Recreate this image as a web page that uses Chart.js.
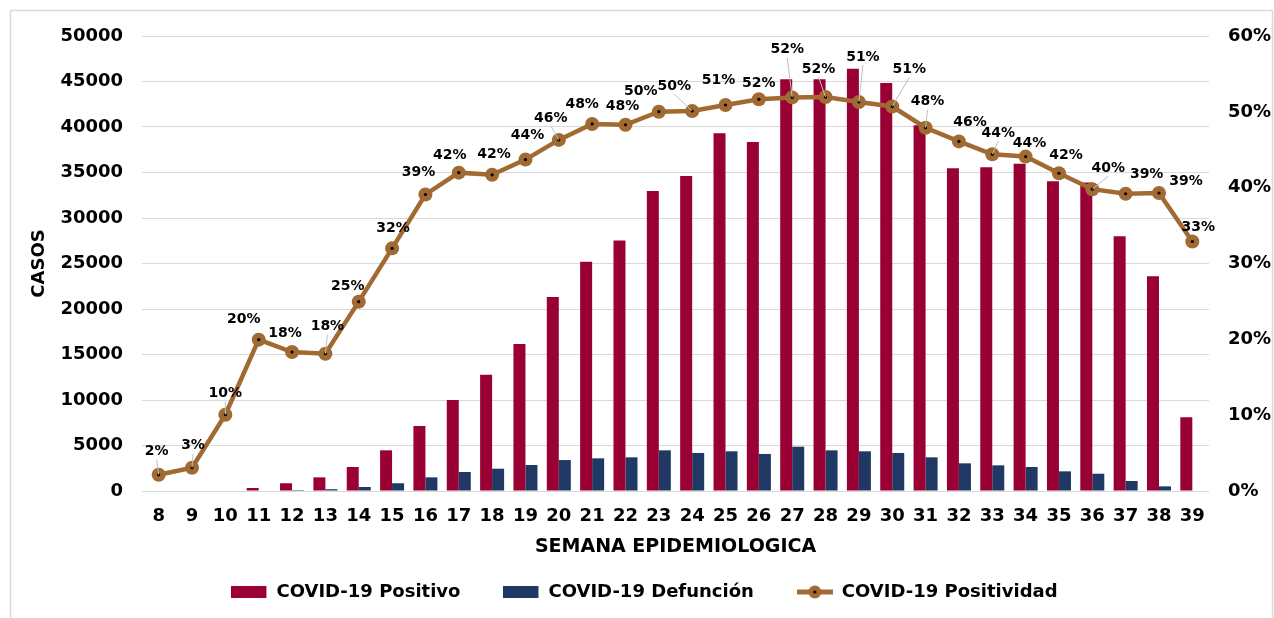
<!DOCTYPE html>
<html>
<head>
<meta charset="utf-8">
<script src="https://cdn.jsdelivr.net/npm/chart.js@4"></script>
<style>
  html, body { margin: 0; padding: 0; background: #fff; }
</style>
</head>
<body>
<canvas id="grafica" width="1274" height="618"></canvas>
<script>
// Datos por semana epidemiologica
const semanas = ["8", "9", "10", "11", "12", "13", "14", "15", "16", "17", "18", "19", "20", "21", "22", "23",
  "24", "25", "26", "27", "28", "29", "30", "31", "32", "33", "34", "35", "36", "37", "38", "39"];
const positivos = [0, 0, 0, 330, 850, 1500, 2640, 4470, 7140, 10000, 12780, 16150, 21320, 25200, 27540, 32970,
  34620, 39300, 38350, 45240, 45240, 46400, 44840, 40200, 35460, 35570, 35970, 34030, 33900, 27990, 23590, 8100];
const defunciones = [0, 0, 0, 0, 100, 200, 440, 850, 1500, 2090, 2450, 2860, 3400, 3590, 3700, 4470,
  4180, 4360, 4070, 4870, 4470, 4360, 4180, 3700, 3040, 2820, 2640, 2160, 1900, 1100, 510, 0];
const positividad = [0.0215, 0.0307, 0.1006, 0.1996, 0.1833, 0.181, 0.2497, 0.32, 0.391, 0.4198, 0.417, 0.437,
  0.463, 0.484, 0.483, 0.5002, 0.5011, 0.509, 0.5165, 0.519, 0.5195, 0.513, 0.507, 0.479, 0.461, 0.444,
  0.441, 0.419, 0.398, 0.392, 0.393, 0.329];

// desplazamiento de cada etiqueta (px) respecto a su punto
const etiquetaDx = [-2, 1, 0, -15, -7, 2, -11, 1, -7, -9, 2, 2, -8, -10, -3, -18,
  -18, -7, 0, -5, -7, 4, 17, 2, 11, 6, 4, 7, 16, 21, 27, 6];
const etiquetaDy = [-23, -22, -21, -20, -19, -27, -15, -20, -22, -17, -20, -24, -22, -20, -18, -20,
  -25, -25, -16, -48, -28, -45, -37, -26, -19, -21, -13, -18, -21, -19, -12, -14];
// etiquetas con linea guia
const conGuia = [0, 1, 2, 5, 12, 16, 19, 20, 21, 22, 23, 25, 28];

const ROJO = "#990033";
const AZUL = "#203864";
const CAFE = "#A06A32";
const FUENTE = "'DejaVu Sans', sans-serif";

Chart.defaults.font.family = FUENTE;
Chart.defaults.font.weight = "bold";
Chart.defaults.color = "#000";

// marcas de la leyenda
function marcaLeyenda(tipo, color) {
  const c = document.createElement("canvas");
  c.width = 36;
  c.height = 16;
  const g = c.getContext("2d");
  if (tipo === "barra") {
    g.fillStyle = color;
    g.fillRect(0, 2, 35, 12);
  } else {
    g.strokeStyle = color;
    g.lineWidth = 5;
    g.beginPath();
    g.moveTo(0, 8);
    g.lineTo(36, 8);
    g.stroke();
    g.fillStyle = color;
    g.beginPath();
    g.arc(18, 8, 6.5, 0, Math.PI * 2);
    g.fill();
    g.fillStyle = "#000";
    g.beginPath();
    g.arc(18, 8, 1.6, 0, Math.PI * 2);
    g.fill();
  }
  return c;
}
const marcas = [marcaLeyenda("barra", ROJO), marcaLeyenda("barra", AZUL), marcaLeyenda("linea", CAFE)];

const fondoYEtiquetas = {
  id: "fondoYEtiquetas",
  beforeDraw(chart) {
    const ctx = chart.ctx;
    ctx.save();
    ctx.fillStyle = "#fff";
    ctx.fillRect(0, 0, chart.width, chart.height);
    ctx.strokeStyle = "#d9d9d9";
    ctx.lineWidth = 1.5;
    ctx.strokeRect(10.5, 10.5, 1262, 620);
    ctx.restore();
  },
  afterDatasetsDraw(chart) {
    const ctx = chart.ctx;
    const meta = chart.getDatasetMeta(2);
    ctx.save();
    // puntos negros al centro
    ctx.fillStyle = "#000";
    meta.data.forEach((p) => {
      ctx.beginPath();
      ctx.arc(p.x, p.y, 1.6, 0, Math.PI * 2);
      ctx.fill();
    });
    // lineas guia
    ctx.strokeStyle = "#bfbfbf";
    ctx.lineWidth = 1;
    conGuia.forEach((i) => {
      const p = meta.data[i];
      ctx.beginPath();
      ctx.moveTo(p.x + etiquetaDx[i], p.y + etiquetaDy[i] + 8);
      ctx.lineTo(p.x, p.y);
      ctx.stroke();
    });
    ctx.font = "bold 14px " + FUENTE;
    ctx.fillStyle = "#000";
    ctx.textAlign = "center";
    ctx.textBaseline = "middle";
    meta.data.forEach((p, i) => {
      ctx.fillText(Math.round(positividad[i] * 100) + "%", p.x + etiquetaDx[i], p.y + etiquetaDy[i]);
    });
    ctx.restore();
  }
};

new Chart(document.getElementById("grafica"), {
  type: "bar",
  data: {
    labels: semanas,
    datasets: [
      { label: "COVID-19 Positivo", data: positivos, backgroundColor: ROJO, yAxisID: "y",
        barPercentage: 1, categoryPercentage: 0.72 },
      { label: "COVID-19 Defunción", data: defunciones, backgroundColor: AZUL, yAxisID: "y",
        barPercentage: 1, categoryPercentage: 0.72 },
      { type: "line", label: "COVID-19 Positividad", data: positividad, yAxisID: "y1", order: -1,
        borderColor: CAFE, backgroundColor: CAFE, borderWidth: 4.5, pointRadius: 7,
        pointBackgroundColor: CAFE, pointBorderColor: CAFE, pointBorderWidth: 0, tension: 0 }
    ]
  },
  options: {
    responsive: false,
    animation: false,
    layout: { padding: { left: 15, right: 0, top: 36, bottom: 7 } },
    plugins: {
      tooltip: { enabled: false },
      legend: {
        position: "bottom",
        labels: {
          usePointStyle: true,
          pointStyleWidth: 36,
          boxHeight: 16,
          padding: 43,
          font: { size: 18, weight: "bold" },
          color: "#000",
          sort: (a, b) => a.datasetIndex - b.datasetIndex,
          generateLabels(chart) {
            return chart.data.datasets.map((ds, i) => ({
              text: ds.label, datasetIndex: i, pointStyle: marcas[i],
              fillStyle: ds.backgroundColor, strokeStyle: ds.backgroundColor, lineWidth: 0, hidden: false
            }));
          }
        }
      }
    },
    scales: {
      x: {
        grid: { display: false, drawTicks: false },
        border: { display: false },
        ticks: { font: { size: 18, weight: "bold" }, padding: 15, maxRotation: 0, autoSkip: false },
        title: { display: true, text: "SEMANA EPIDEMIOLOGICA", font: { size: 19, weight: "bold" },
          padding: { top: 4, bottom: -18 } },
        afterFit(s) { s.height = 49; }
      },
      y: {
        position: "left",
        min: 0, max: 50000,
        ticks: { stepSize: 5000, font: { size: 18, weight: "bold" }, padding: 19,
          callback: (v) => String(v) },
        grid: { color: "#d9d9d9", lineWidth: 1, drawTicks: false },
        border: { display: false },
        title: { display: true, text: "CASOS", font: { size: 18, weight: "bold" }, padding: { top: 14, bottom: 4 } },
        afterFit(s) { s.width = 127; }
      },
      y1: {
        position: "right",
        min: 0, max: 0.6,
        ticks: { stepSize: 0.1, font: { size: 18, weight: "bold" }, padding: 19,
          callback: (v) => Math.round(v * 100) + "%" },
        grid: { display: false, drawTicks: false },
        border: { display: false },
        afterFit(s) { s.width = 1274 - 1209; }
      }
    }
  },
  plugins: [fondoYEtiquetas]
});
</script>
</body>
</html>
